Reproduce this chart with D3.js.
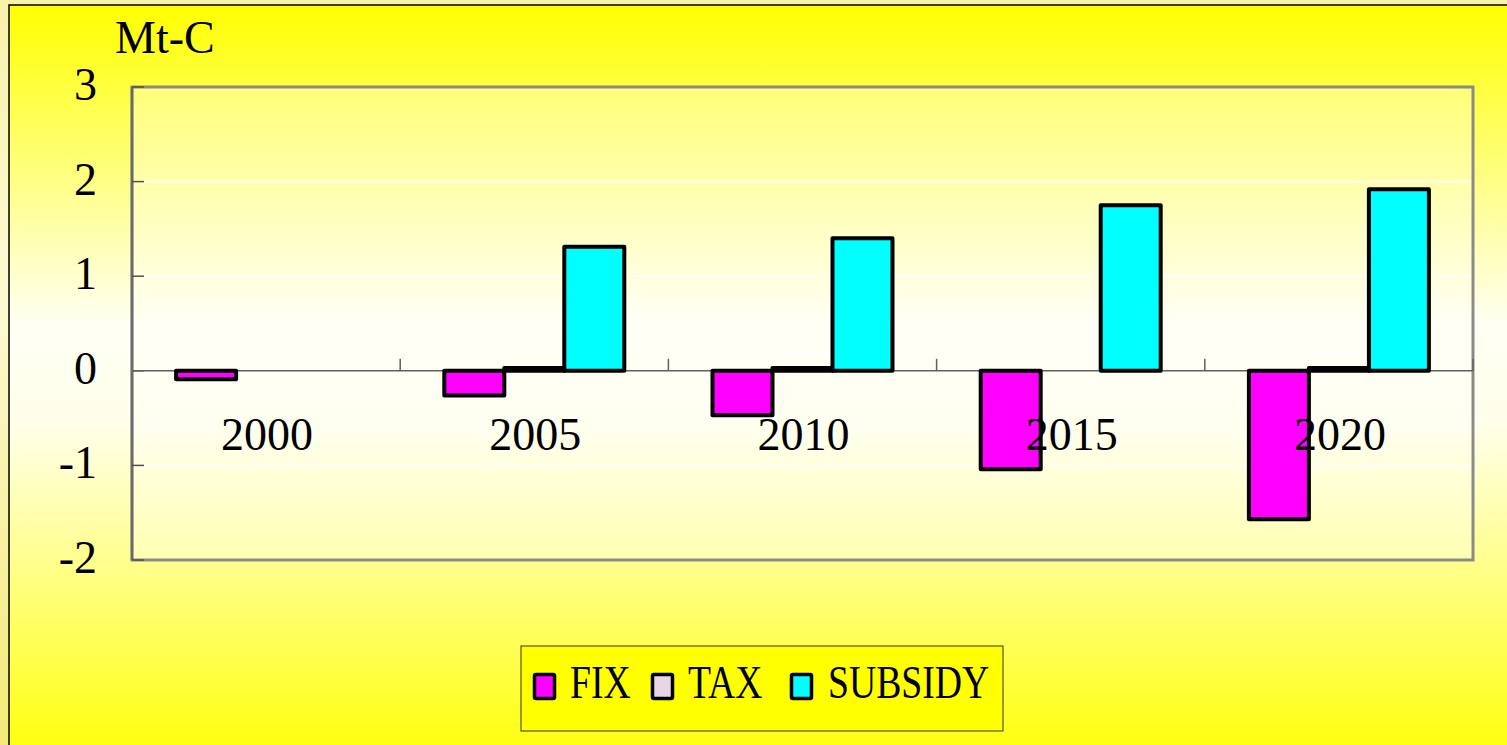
<!DOCTYPE html>
<html><head><meta charset="utf-8">
<script src="https://cdn.jsdelivr.net/npm/d3@7"></script>
<style>html,body{margin:0;padding:0;overflow:hidden;background:#fbf5b8}</style>
</head><body>
<script>
const years = ["2000","2005","2010","2015","2020"];
const seriesNames = ["FIX","TAX","SUBSIDY"];
const fixValues = [-0.09,-0.26,-0.47,-1.04,-1.57];
const taxValues = [0,0.03,0.03,0,0.03];
const subsidyValues = [0,1.31,1.40,1.75,1.92];
const yTicks = [3,2,1,0,-1,-2];
const seriesColors = ["#ff00ff","#e8d6e8","#00ffff"];

const W = 1507, H = 745;
const svg = d3.select("body").append("svg").attr("width",W).attr("height",H);
const defs = svg.append("defs");
const outerG = defs.append("linearGradient").attr("id","outerG").attr("x1",0).attr("y1",0).attr("x2",0).attr("y2",1);
[[0,"#f9f2ac"],[0.4,"#fdfad2"],[1,"#f3e978"]].forEach(s=>outerG.append("stop").attr("offset",s[0]).attr("stop-color",s[1]));
const bgG = defs.append("linearGradient").attr("id","bgG").attr("x1",0).attr("y1",0).attr("x2",0).attr("y2",1);
[[0,"#ffff00"],[0.42,"#fffff4"],[0.55,"#ffffea"],[1,"#ffff00"]].forEach(s=>bgG.append("stop").attr("offset",s[0]).attr("stop-color",s[1]));

svg.append("rect").attr("width",W).attr("height",H).attr("fill","url(#outerG)");
svg.append("rect").attr("x",9).attr("y",5).attr("width",W+20).attr("height",H+20)
  .attr("fill","url(#bgG)").attr("stroke","#000").attr("stroke-width",1.5);

const L = 132, R = 1473, T = 87, B = 560;
const x0 = d3.scaleBand().domain(years).range([L,R]).paddingInner(0).paddingOuter(0);
const barW = 60;
const x1 = d3.scaleBand().domain(seriesNames).range([0,barW*3]).padding(0);
const y = d3.scaleLinear().domain([-2,3]).range([B,T]);

// plot area fill
svg.append("rect").attr("x",L).attr("y",T).attr("width",R-L).attr("height",B-T)
  .attr("fill","#ffffff").attr("fill-opacity",0.3);

// gridlines
svg.append("g").selectAll("line").data(yTicks.filter(d=>d!==0&&d!==3&&d!==-2)).join("line")
  .attr("x1",L).attr("x2",R).attr("y1",d=>y(d)).attr("y2",d=>y(d))
  .attr("stroke","#ffffff").attr("stroke-width",1.5);

// frame
svg.append("rect").attr("x",L).attr("y",T).attr("width",R-L).attr("height",B-T)
  .attr("fill","none").attr("stroke","#8a8a8a").attr("stroke-width",3);
svg.append("line").attr("x1",L).attr("x2",L).attr("y1",T).attr("y2",B).attr("stroke","#6a6a6a").attr("stroke-width",2.5);

// y ticks (inward)
svg.append("g").selectAll("line").data(yTicks).join("line")
  .attr("x1",L).attr("x2",L+12).attr("y1",d=>y(d)).attr("y2",d=>y(d))
  .attr("stroke","#505050").attr("stroke-width",1.5);
svg.append("g").selectAll("text").data(yTicks).join("text")
  .attr("x",97).attr("y",d=>y(d)+13).attr("text-anchor","end")
  .attr("font-family","Liberation Serif, Times New Roman, serif").attr("font-size",46)
  .attr("fill","#000").text(d=>d);

// zero line and category ticks
svg.append("line").attr("x1",L).attr("x2",R).attr("y1",y(0)).attr("y2",y(0)).attr("stroke","#606060").attr("stroke-width",1.5);
svg.append("g").selectAll("line").data(years.slice(1).concat(["end"])).join("line")
  .attr("x1",(d,i)=>i<4?x0(d):R).attr("x2",(d,i)=>i<4?x0(d):R)
  .attr("y1",y(0)-12).attr("y2",y(0)).attr("stroke","#606060").attr("stroke-width",1.5);

// bars
const data = [];
years.forEach((yr,i)=>{
  [fixValues,taxValues,subsidyValues].forEach((arr,s)=>{
    data.push({yr, s:seriesNames[s], v:arr[i], c:seriesColors[s]});
  });
});
svg.append("g").selectAll("rect").data(data.filter(d=>d.v!==0)).join("rect")
  .attr("x",d=>x0(d.yr)+(x0.bandwidth()-barW*3)/2+x1(d.s))
  .attr("width",x1.bandwidth())
  .attr("y",d=>y(Math.max(0,d.v)))
  .attr("height",d=>Math.abs(y(d.v)-y(0)))
  .attr("fill",d=>d.c).attr("stroke","#000").attr("stroke-width",4).attr("stroke-linejoin","round");

// x labels
svg.append("g").selectAll("text").data(years).join("text")
  .attr("x",d=>x0(d)+x0.bandwidth()/2+1).attr("y",450).attr("text-anchor","middle")
  .attr("font-family","Liberation Serif, Times New Roman, serif").attr("font-size",46)
  .attr("fill","#000").text(d=>d);

// unit label
svg.append("text").attr("x",115).attr("y",53)
  .attr("font-family","Liberation Serif, Times New Roman, serif").attr("font-size",46)
  .attr("fill","#000").text("Mt-C");

// legend
svg.append("rect").attr("x",521).attr("y",646).attr("width",482).attr("height",85)
  .attr("fill","#ffff00").attr("stroke","#333").attr("stroke-width",1);
const legX = [533,651,790];
const legTX = [570,688,828];
const lg = svg.append("g").selectAll("g").data(seriesNames).join("g");
lg.append("rect").attr("x",(d,i)=>legX[i]+1.5).attr("y",674.5).attr("width",20).attr("height",24)
  .attr("fill",(d,i)=>seriesColors[i]).attr("stroke","#000").attr("stroke-width",3.5).attr("rx",1.5);
lg.append("text").attr("transform",(d,i)=>`translate(${legTX[i]},698) scale(0.82,1)`)
  .attr("font-family","Liberation Serif, Times New Roman, serif").attr("font-size",46)
  .attr("fill","#000").text(d=>d);
</script>
</body></html>
